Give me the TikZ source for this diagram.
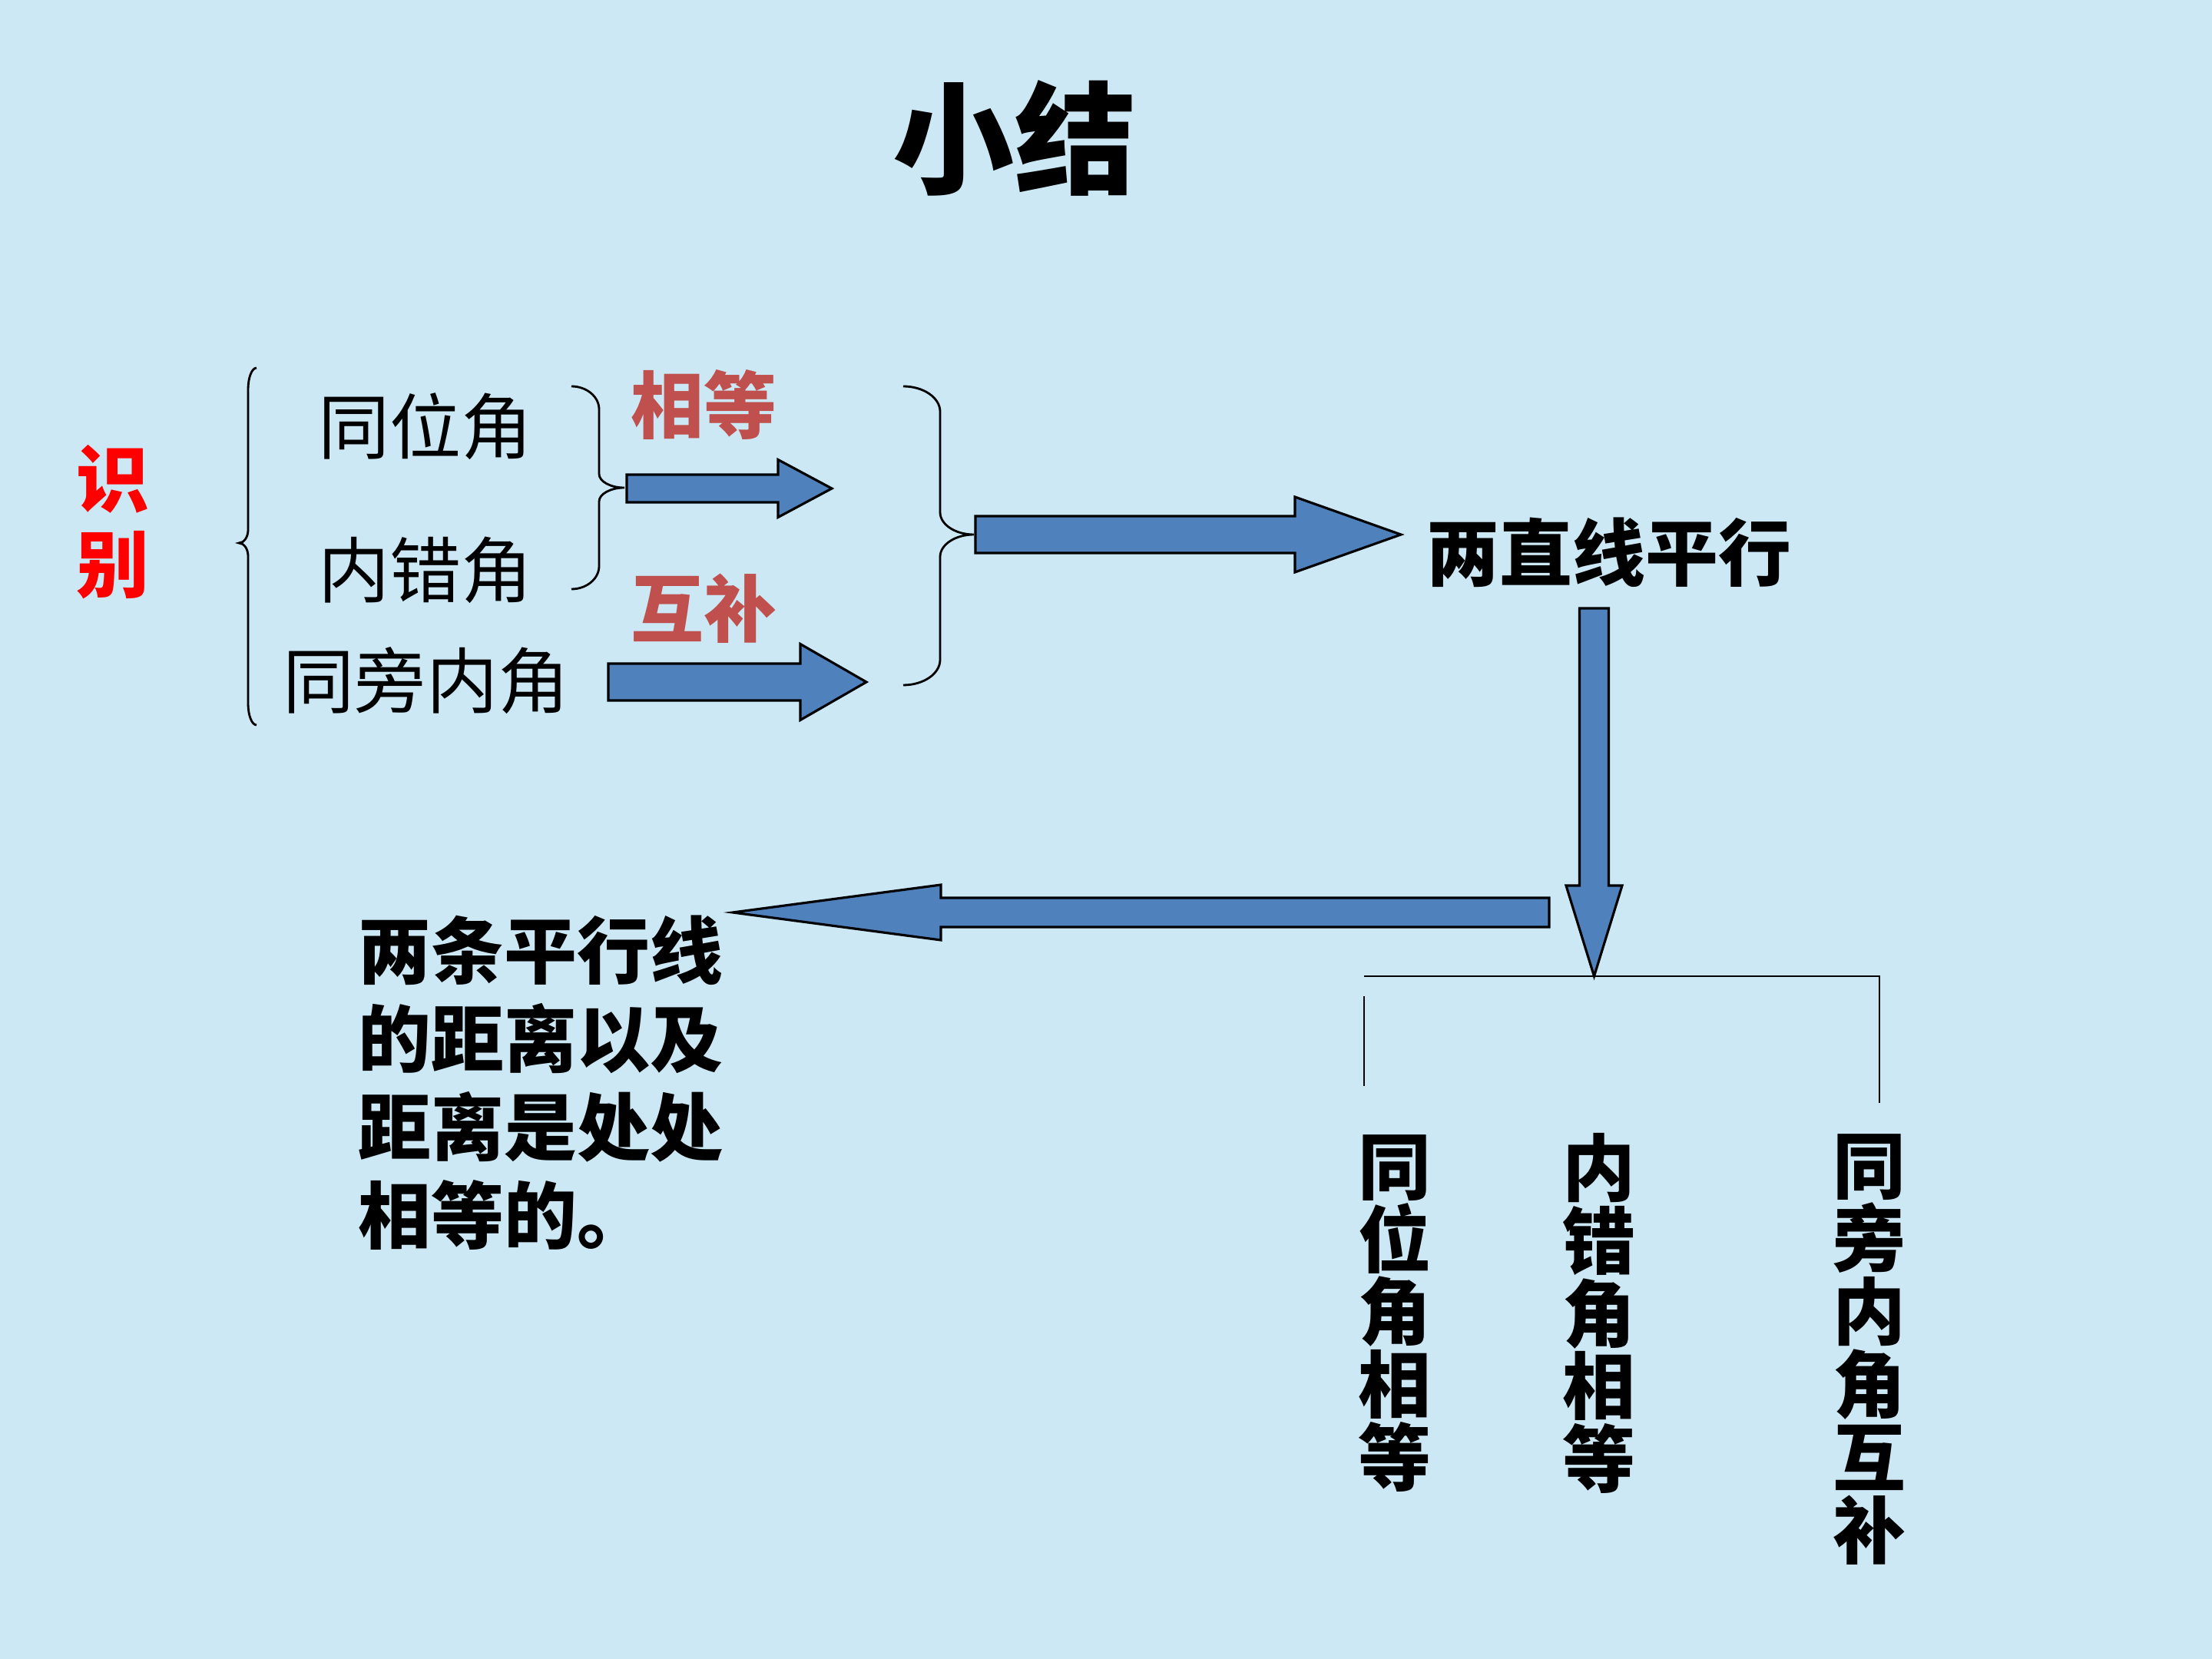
\documentclass[tikz,border=0pt]{standalone}
\usepackage{fontspec}
\newfontfamily\cjk{Noto Sans CJK SC}
\usetikzlibrary{calc}

\definecolor{slidebg}{RGB}{204,232,244}
\definecolor{arrowblue}{RGB}{79,129,189}
\definecolor{accentred}{RGB}{192,80,77}

% block arrow: tail, tip, shaft half width, head half width, head length
\newcommand{\blockarrow}[5]{%
  \coordinate (ba-h) at ($(#2)!#5!(#1)$);
  \filldraw[arrowbody] ($(#1)!#3!90:(#2)$) -- ($(ba-h)!#3!90:(#2)$)
    -- ($(ba-h)!#4!90:(#2)$) -- (#2) -- ($(ba-h)!#4!-90:(#2)$)
    -- ($(ba-h)!#3!-90:(#2)$) -- ($(#1)!#3!-90:(#2)$) -- cycle;
}
% curly brace: end x, stem x, tip x, top y, tip y, bottom y, end bend, tip bend
\newcommand{\curlybrace}[8]{%
  \draw[bracestyle] (#1,#4) .. controls ({#1+0.55*(#2-#1)},#4) and (#2,{#4-0.45*#7}) .. (#2,{#4-#7})
    -- (#2,{#5+#8}) .. controls (#2,{#5+0.45*#8}) and ({#3+0.55*(#2-#3)},#5) .. (#3,#5)
    .. controls ({#3+0.55*(#2-#3)},#5) and (#2,{#5-0.45*#8}) .. (#2,{#5-#8})
    -- (#2,{#6+#7}) .. controls (#2,{#6+0.45*#7}) and ({#1+0.55*(#2-#1)},#6) .. (#1,#6);
}

\begin{document}
\begin{tikzpicture}[
    angletext/.style={font=\cjk\fontsize{26.5pt}{30pt}\selectfont, inner sep=0pt},
    boldtext/.style={font=\cjk\bfseries\fontsize{27pt}{32.7pt}\selectfont, inner sep=0pt},
    redtext/.style={boldtext, text=accentred},
    vtext/.style={font=\cjk\bfseries\fontsize{27pt}{27pt}\selectfont, inner sep=0pt, align=center},
    bracestyle/.style={draw, line width=0.8pt},
    treeline/.style={draw, line width=0.8pt},
    arrowbody/.style={fill=arrowblue, draw=black, line width=0.9pt, line join=miter}
]
\fill[slidebg] (0,0) rectangle (28.8,-21.6);
\useasboundingbox (0,0) rectangle (28.8,-21.6);

% Title
\node[font=\cjk\bfseries\fontsize{45pt}{50pt}\selectfont, inner sep=0pt] (title) at (13.21,-1.80) {小结};

% Left column - identify
\node[font=\cjk\bfseries\fontsize{27pt}{31.6pt}\selectfont, text=red, inner sep=0pt, align=center] (shibie) at (1.47,-6.80) {识\\别};
\node[angletext] (tongwei) at (5.54,-5.55) {同位角};
\node[angletext] (neicuo) at (5.54,-7.42) {内错角};
\node[angletext] (tongpang) at (5.55,-8.86) {同旁内角};
\curlybrace{3.34}{3.23}{3.11}{-4.79}{-7.07}{-9.44}{0.28}{0.17}

% Middle - equal / supplementary
\curlybrace{7.44}{7.80}{8.13}{-5.03}{-6.35}{-7.67}{0.30}{0.18}
\node[redtext] (xiangdeng) at (9.16,-5.27) {相等};
\node[redtext] (hubu) at (9.16,-7.92) {互补};
\coordinate (eqtail) at (8.16,-6.36);
\coordinate (eqtip) at (10.83,-6.36);
\blockarrow{eqtail}{eqtip}{0.18cm}{0.375cm}{0.70cm}
\coordinate (sumtail) at (7.92,-8.88);
\coordinate (sumtip) at (11.28,-8.88);
\blockarrow{sumtail}{sumtip}{0.24cm}{0.495cm}{0.86cm}

% Right - parallel lines
\curlybrace{11.76}{12.24}{12.68}{-5.03}{-6.96}{-8.92}{0.33}{0.29}
\node[boldtext] (parallel) at (20.95,-7.19) {两直线平行};
\coordinate (partail) at (12.70,-6.96);
\coordinate (partip) at (18.24,-6.96);
\blockarrow{partail}{partip}{0.24cm}{0.49cm}{1.38cm}

% Tree of properties
\coordinate (fork) at (20.755,-12.71);
\coordinate (forkL) at (17.76,-12.71);
\coordinate (forkR) at (24.47,-12.71);
\coordinate (legR) at (24.47,-14.36);
\coordinate (legLtop) at (17.76,-12.97);
\coordinate (legLbot) at (17.76,-14.14);
\draw[treeline] (forkL) -- (forkR) -- (legR);
\draw[treeline] (legLtop) -- (legLbot);
\coordinate (downtail) at (20.755,-7.92);
\blockarrow{downtail}{fork}{0.19cm}{0.365cm}{1.18cm}

\node[vtext] (res1) at (18.16,-17.10) {同\\位\\角\\相\\等};
\node[vtext] (res2) at (20.82,-17.10) {内\\错\\角\\相\\等};
\node[vtext] (res3) at (24.34,-17.57) {同\\旁\\内\\角\\互\\补};

% Distance between parallel lines
\coordinate (disttail) at (20.17,-11.88);
\coordinate (disttip) at (9.54,-11.88);
\blockarrow{disttail}{disttip}{0.19cm}{0.36cm}{2.71cm}
\node[boldtext, align=left, anchor=west] (distance) at (4.66,-14.10) {两条平行线\\的距离以及\\距离是处处\\相等的。};
\end{tikzpicture}
\end{document}
